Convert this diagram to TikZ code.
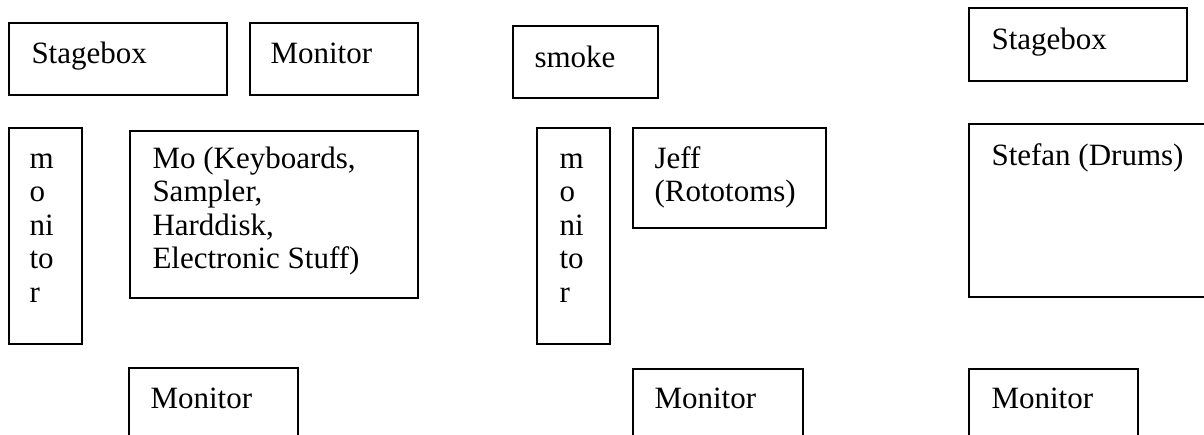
\documentclass[tikz,border=0pt]{standalone}
\usepackage{fontspec}
\setmainfont{Liberation Serif}
\tikzset{
  boxst/.style={draw, line width=0.7pt, inner sep=0pt, outer sep=0pt, anchor=north west},
  txt/.style={inner sep=0pt, anchor=base west, font=\fontsize{12.4}{13.4}\selectfont}
}
\newcommand\bx[5]{\node[boxst, minimum width={(#4-#2)*0.4pt}, minimum height={(#5-#3)*0.4pt}] (#1) at (#2,#3) {};}
\newcommand\lines[2]{\parbox[t]{#1}{\raggedright #2}}
\begin{document}
\begin{tikzpicture}[x=0.4pt, y=-0.4pt]
\useasboundingbox (0,0) rectangle (1204,434);
% boxes
\bx{stage1}{9}{23}{227}{95}
\bx{mon1}{250}{23}{418}{95}
\bx{smoke}{513}{26}{658}{98}
\bx{stage2}{969}{8}{1187}{81}
\bx{vmon1}{9}{128}{82}{344}
\bx{mo}{130}{131}{418}{298}
\bx{vmon2}{537}{128}{610}{344}
\bx{jeff}{633}{128}{826}{228}
\bx{stefan}{969}{124}{1215}{297}
\bx{bmon1}{129}{368}{298}{445}
\bx{bmon2}{633}{369}{803}{445}
\bx{bmon3}{969}{369}{1138}{445}
% texts
\node[txt] (tstage1) at (31,63) {Stagebox};
\node[txt] (tmon1) at (270,63) {Monitor};
\node[txt] (tsmoke) at (534,67) {smoke};
\node[txt] (tstage2) at (991,49) {Stagebox};
\node[txt] (tvmon1) at (29,168) {\lines{20pt}{m\\o\\ni\\to\\r}};
\node[txt] (tmo) at (152,168) {\lines{110pt}{Mo (Keyboards,\\Sampler,\\Harddisk,\\Electronic Stuff)}};
\node[txt] (tvmon2) at (559,168) {\lines{20pt}{m\\o\\ni\\to\\r}};
\node[txt] (tjeff) at (654,168) {\lines{70pt}{Jeff\\(Rototoms)}};
\node[txt] (tstefan) at (991,165) {Stefan (Drums)};
\node[txt] (tbmon1) at (150,408) {Monitor};
\node[txt] (tbmon2) at (654,408) {Monitor};
\node[txt] (tbmon3) at (991,408) {Monitor};
\end{tikzpicture}
\end{document}
